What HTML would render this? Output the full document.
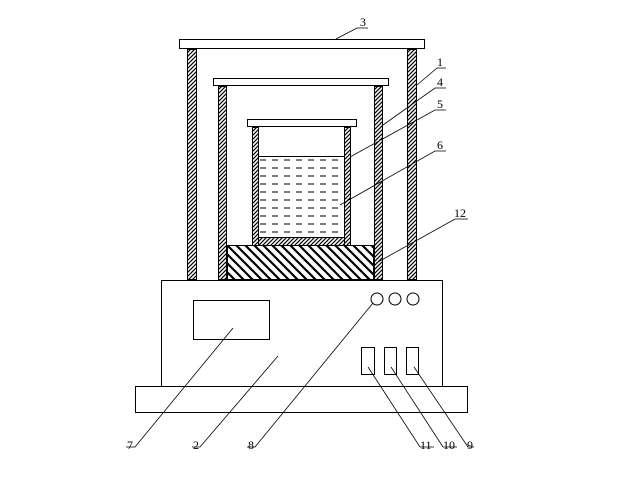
<!DOCTYPE html>
<html><head><style>html,body{margin:0;padding:0;background:#fff}svg{display:block}</style></head><body>
<svg width="624" height="485" viewBox="0 0 624 485" xmlns="http://www.w3.org/2000/svg">
<defs>
<pattern id="h1" patternUnits="userSpaceOnUse" width="4" height="4"><rect width="4" height="4" fill="#fff"/><path d="M-1,5 L5,-1 M-1,1 L1,-1 M3,5 L5,3" stroke="#000" stroke-width="1.2"/></pattern>
<pattern id="h2" patternUnits="userSpaceOnUse" width="9" height="9"><rect width="9" height="9" fill="#fff"/><path d="M0,0 L9,9 M-9,0 L9,18 M0,-9 L18,9" stroke="#000" stroke-width="2.2"/></pattern>
<pattern id="liq" patternUnits="userSpaceOnUse" width="12" height="8" x="258" y="156"><rect width="12" height="8" fill="#fff"/><path d="M2,4 L8,4" stroke="#000" stroke-width="1"/></pattern>
</defs>
<g stroke="#000" stroke-width="1" fill="#fff">
<rect x="179.5" y="39.5" width="245" height="9"/>
<rect x="187.5" y="49.5" width="9" height="230" fill="url(#h1)"/>
<rect x="407.5" y="49.5" width="9" height="230" fill="url(#h1)"/>
<rect x="213.5" y="78.5" width="175" height="7"/>
<rect x="218.5" y="86.5" width="8" height="193" fill="url(#h1)"/>
<rect x="374.5" y="86.5" width="8" height="193" fill="url(#h1)"/>
<rect x="227.5" y="245.5" width="146" height="34" fill="url(#h2)"/>
<rect x="247.5" y="119.5" width="109" height="7"/>
<rect x="252.5" y="127.5" width="6" height="118" fill="url(#h1)"/>
<rect x="344.5" y="127.5" width="6" height="118" fill="url(#h1)"/>
<rect x="258.5" y="237.5" width="86" height="8" fill="url(#h1)"/>
<rect x="258.5" y="156.5" width="86" height="81" fill="url(#liq)"/>
<line x1="258" y1="156.5" x2="344" y2="156.5"/>
<rect x="161.5" y="280.5" width="281" height="106"/>
<rect x="135.5" y="386.5" width="332" height="26"/>
<rect x="193.5" y="300.5" width="76" height="39"/>
<circle cx="377" cy="299" r="6"/><circle cx="395" cy="299" r="6"/><circle cx="413" cy="299" r="6"/>
<rect x="361.5" y="347.5" width="13" height="27"/>
<rect x="384.5" y="347.5" width="12" height="27"/>
<rect x="406.5" y="347.5" width="12" height="27"/>
<g fill="none" stroke-width="0.8">
<polyline points="336,39 357,28 368,28"/>
<polyline points="417,85 437,68 446,68"/>
<polyline points="383,125 435,88 446,88"/>
<polyline points="350,157 435,110 446,110"/>
<polyline points="340,205 435,151 446,151"/>
<polyline points="378,262 455,219 468,219"/>
<polyline points="233,328 135,447 126,447"/>
<polyline points="278,356 200,447 192,447"/>
<polyline points="373,303 255,447 247,447"/>
<polyline points="368,367 420,447 434,447"/>
<polyline points="391,367 443,447 457,447"/>
<polyline points="414,367 468,447 474,447"/>
</g>
</g>
<g font-family="Liberation Serif, serif" font-size="12" fill="#000">
<text x="360" y="26">3</text>
<text x="437" y="66">1</text>
<text x="437" y="86">4</text>
<text x="437" y="108">5</text>
<text x="437" y="149">6</text>
<text x="454" y="217">12</text>
<text x="127" y="449">7</text>
<text x="193" y="449">2</text>
<text x="248" y="449">8</text>
<text x="420" y="449">11</text>
<text x="443" y="449">10</text>
<text x="467" y="449">9</text>
</g>
</svg>
</body></html>
